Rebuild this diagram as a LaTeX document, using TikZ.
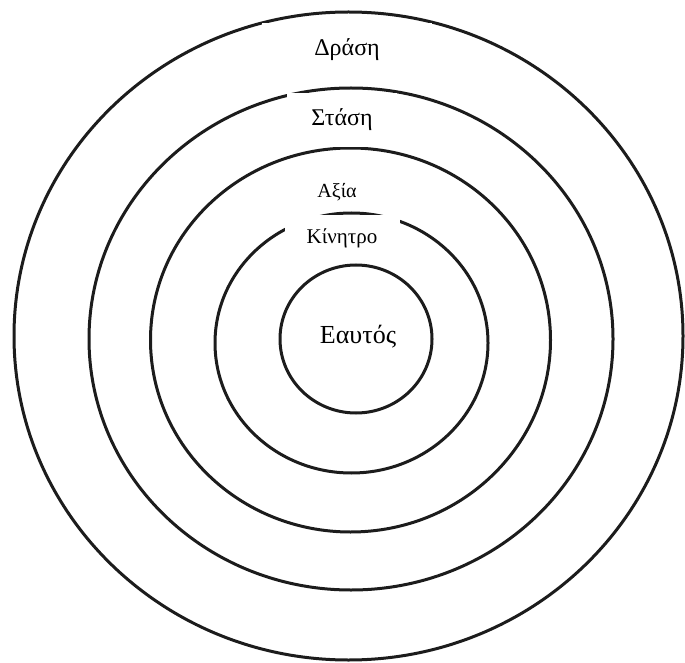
\documentclass[tikz,border=0pt]{standalone}
\usepackage{fontspec}
\setmainfont{Liberation Serif}
\usetikzlibrary{positioning}
\definecolor{ink}{RGB}{28,28,28}

\begin{document}
\begin{tikzpicture}[x=0.5pt, y=-0.5pt,
    ring/.style={draw=ink,line width=1.5pt},
    lbl/.style={fill=white,inner sep=1pt,align=center}]
    \useasboundingbox (0,0) rectangle (685,663);
    % rings, outside in: centre x/y, radii
    \foreach \cx/\cy/\rx/\ry in {348.5/336/334.5/324, 351/339/262/251,
        350.5/340/200/192, 351.5/343/136.5/130, 356/339/76/74}
      \draw[ring] (\cx,\cy) ellipse [x radius=\rx, y radius=\ry];
    \node[lbl,font=\fontsize{12}{14}\selectfont,minimum width=85pt,minimum height=27pt] (drasi) at (347,50) {Δράση};
    \node[lbl,font=\fontsize{12}{14}\selectfont,minimum width=55pt,minimum height=27pt] (stasi) at (342,120) {Στάση};
    \node[lbl,font=\fontsize{10}{12}\selectfont] (axia) at (337,192) {Αξία};
    \node[lbl,font=\fontsize{10.5}{12}\selectfont,minimum width=57.5pt,minimum height=23pt] (kinitro) at (342,238) {Κίνητρο};
    \node[font=\fontsize{13}{15}\selectfont] (eaftos) at (358,337) {Εαυτός};
  \end{tikzpicture}
\end{document}
